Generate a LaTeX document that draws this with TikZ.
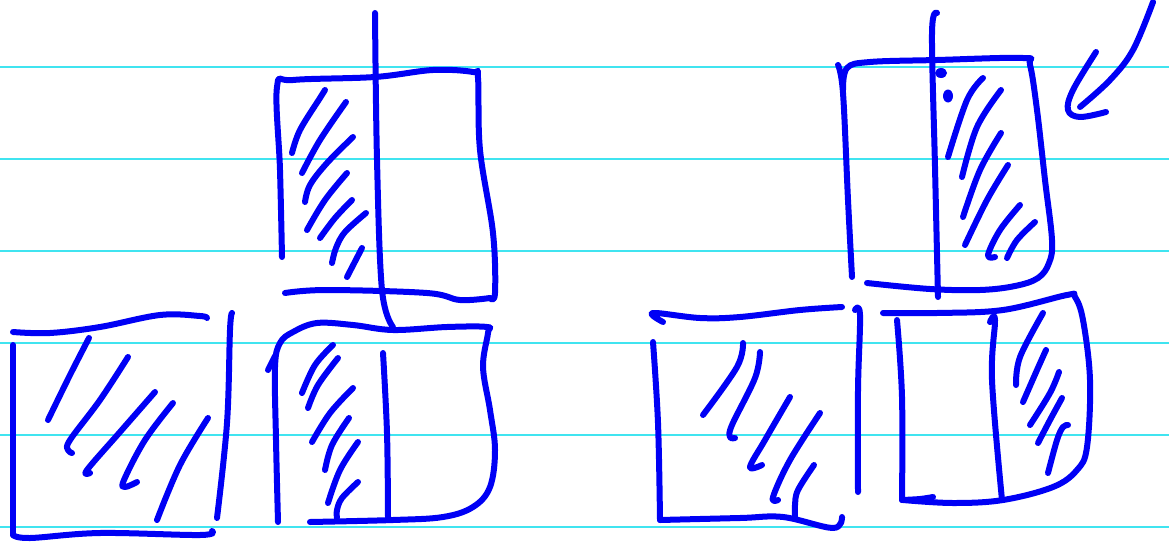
\documentclass[tikz,border=0pt]{standalone}
\definecolor{inkblue}{RGB}{0,0,245}
\definecolor{rulecyan}{RGB}{64,228,240}
\begin{document}
\begin{tikzpicture}[x=1pt,y=-1pt,
  ink/.style={draw=inkblue,line width=6pt,line cap=round,line join=round},
  rule/.style={draw=rulecyan,line width=1.6pt},
  sm/.style={smooth,tension=0.6}]
\useasboundingbox[fill=white] (0,0) rectangle (1169,543);
% ruled lines
\foreach \yy in {67,159,251,343,435,527} \draw[rule] (0,\yy) -- (1169,\yy);

% ---- Shape A: bottom-left square
\draw[ink] plot[sm] coordinates {(13,332)(50,333)(100,327)(160,315)(200,316)(207,318)};
\draw[ink] plot[sm] coordinates {(13,345)(13,440)(13,535)};
\draw[ink] plot[sm] coordinates {(13,535)(30,538)(100,533)(200,535)(212,531)};
\draw[ink] plot[sm] coordinates {(232,313)(230,330)(227,423)(217,518)};
\draw[ink] plot[sm] coordinates {(89,338)(70,375)(48,420)};
\draw[ink] plot[sm] coordinates {(128,357)(100,400)(70,440)(68,450)(72,453)};
\draw[ink] plot[sm] coordinates {(155,392)(120,432)(87,470)(90,473)};
\draw[ink] plot[sm] coordinates {(173,403)(145,440)(124,480)(125,487)(137,482)};
\draw[ink] plot[sm] coordinates {(208,418)(180,465)(157,520)};

% ---- Shape B: top-middle square
\draw[ink] plot[sm] coordinates {(282,257)(280,170)(277,87)(293,80)(375,77)(433,70)(473,72)(478,78)(480,150)(493,233)(495,293)(490,298)};
\draw[ink] plot[sm] coordinates {(285,293)(327,290)(427,293)(460,300)(490,298)};
\draw[ink] plot[sm] coordinates {(375,13)(377,160)(382,290)(393,327)};
\draw[ink] plot[sm] coordinates {(325,90)(320,98)(300,130)(292,153)};
\draw[ink] plot[sm] coordinates {(346,102)(320,140)(302,173)};
\draw[ink] plot[sm] coordinates {(353,137)(327,163)(310,185)(305,202)};
\draw[ink] plot[sm] coordinates {(347,173)(325,200)(307,230)};
\draw[ink] plot[sm] coordinates {(352,200)(335,218)(320,238)};
\draw[ink] plot[sm] coordinates {(366,213)(345,232)(336,248)(332,263)};
\draw[ink] plot[sm] coordinates {(362,248)(347,277)};

% ---- Shape C: bottom-middle square
\draw[ink] plot[sm] coordinates {(278,522)(276,440)(275,367)(280,343)(293,332)(317,323)(353,325)(393,330)(447,327)(487,327)(488,333)(483,367)(490,410)(495,450)(490,487)(473,507)(443,517)(393,520)(310,522)};
\draw[ink] (268,370) -- (275,356);
\draw[ink] plot[sm] coordinates {(383,353)(387,433)(388,518)};
\draw[ink] plot[sm] coordinates {(333,345)(315,365)(302,393)};
\draw[ink] plot[sm] coordinates {(338,358)(318,385)(308,408)};
\draw[ink] plot[sm] coordinates {(353,388)(330,413)(312,442)};
\draw[ink] plot[sm] coordinates {(349,418)(332,445)(325,470)};
\draw[ink] plot[sm] coordinates {(358,442)(340,470)(328,503)};
\draw[ink] plot[sm] coordinates {(358,482)(342,498)(337,510)(337,518)};

% ---- Shape D: bottom right-middle square
\draw[ink] plot[sm] coordinates {(663,322)(653,313)(700,318)(740,317)(800,310)(842,307)};
\draw[ink] plot[sm] coordinates {(653,342)(658,423)(660,520)};
\draw[ink] plot[sm] coordinates {(660,520)(740,518)(783,517)(833,528)(842,517)};
\draw[ink] plot[sm] coordinates {(855,310)(860,315)(858,390)(858,492)};
\draw[ink] plot[sm] coordinates {(743,343)(737,367)(703,415)};
\draw[ink] plot[sm] coordinates {(760,352)(755,378)(732,425)(730,437)(735,438)};
\draw[ink] plot[sm] coordinates {(790,397)(765,440)(750,467)(762,465)};
\draw[ink] plot[sm] coordinates {(820,413)(790,460)(773,497)(778,500)};
\draw[ink] plot[sm] coordinates {(814,465)(798,490)(795,505)(795,517)};

% ---- Shape E: top-right square
\draw[ink] plot[sm] coordinates {(838,65)(843,93)(848,200)(852,277)};
\draw[ink] plot[sm] coordinates {(843,90)(847,68)(870,62)(937,60)(1023,58)(1030,65)(1037,110)(1045,180)(1052,240)(1049,263)(1038,278)(1015,286)(980,290)(930,289)(867,283)};
\draw[ink] plot[sm] coordinates {(937,13)(932,33)(935,167)(938,297)};
\fill[inkblue] (941,73) ellipse (6pt and 5pt) (948,96) ellipse (5pt and 6.5pt);
\draw[ink] plot[sm] coordinates {(983,78)(967,100)(948,157)};
\draw[ink] plot[sm] coordinates {(1001,90)(977,127)(962,177)};
\draw[ink] plot[sm] coordinates {(1001,133)(980,170)(963,217)};
\draw[ink] plot[sm] coordinates {(1008,165)(987,200)(965,245)};
\draw[ink] plot[sm] coordinates {(1020,205)(1000,230)(988,255)(995,257)};
\draw[ink] plot[sm] coordinates {(1035,222)(1017,240)(1007,258)};
% arrow
\draw[ink] plot[sm] coordinates {(1153,2)(1133,50)(1110,80)(1080,107)};
\draw[ink] plot[sm] coordinates {(1096,52)(1073,90)(1068,110)(1080,117)(1106,112)};

% ---- Shape F: bottom-right square
\draw[ink] plot[sm] coordinates {(883,313)(937,313)(1003,310)(1067,295)(1075,297)(1083,320)(1090,380)(1087,447)(1077,470)(1053,487)(1003,500)(953,503)(903,500)};
\draw[ink] plot[sm] coordinates {(897,320)(902,397)(902,500)};
\draw[ink] plot[sm] coordinates {(902,500)(920,499)(933,497)};
\draw[ink] plot[sm] coordinates {(990,322)(995,320)(992,380)(1002,500)};
\draw[ink] plot[sm] coordinates {(1043,313)(1020,357)(1016,385)};
\draw[ink] plot[sm] coordinates {(1046,350)(1037,370)(1023,402)};
\draw[ink] plot[sm] coordinates {(1059,372)(1050,393)(1030,425)};
\draw[ink] plot[sm] coordinates {(1062,398)(1050,420)(1038,443)};
\draw[ink] plot[sm] coordinates {(1068,425)(1063,427)(1057,440)(1048,473)};
\end{tikzpicture}
\end{document}
